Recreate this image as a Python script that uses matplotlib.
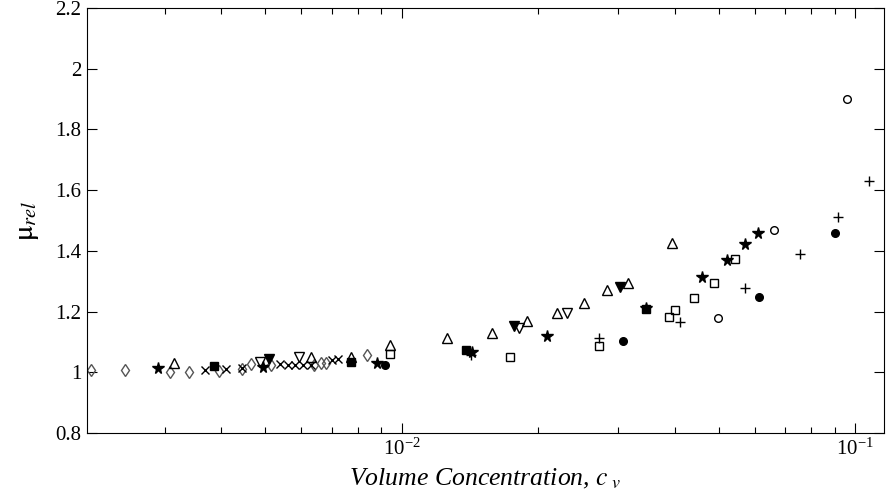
import numpy as np
import matplotlib
matplotlib.use("Agg")
import matplotlib.pyplot as plt
from matplotlib.ticker import FuncFormatter, LogLocator, NullFormatter

plt.rcParams['font.family'] = ['Liberation Serif', 'DejaVu Serif']
plt.rcParams['mathtext.fontset'] = 'stix'

# data, one group per marker type
diamond_x = [0.002065, 0.002455, 0.003075, 0.00339, 0.003945, 0.00445, 0.004658,
             0.00515, 0.0064, 0.00665, 0.0068, 0.00836]
diamond_y = [1.008, 1.008, 1.002, 1.002, 1.004, 1.012, 1.026, 1.024, 1.024, 1.03, 1.032, 1.057]

cross_x = [0.003673, 0.0041, 0.00445, 0.00538, 0.00561, 0.0058, 0.00606, 0.0063, 0.007, 0.00724]
cross_y = [1.008, 1.01, 1.013, 1.027, 1.024, 1.024, 1.024, 1.024, 1.04, 1.043]

star_x = [0.0029, 0.00494, 0.0088, 0.01425, 0.02087, 0.03457, 0.0459, 0.052, 0.057, 0.0609]
star_y = [1.013, 1.018, 1.032, 1.068, 1.12, 1.213, 1.313, 1.37, 1.422, 1.458]

tri_up_x = [0.00315, 0.0063, 0.00772, 0.00944, 0.01255, 0.01578, 0.0189, 0.022, 0.02518,
            0.02835, 0.03155, 0.0394]
tri_up_y = [1.032, 1.051, 1.05, 1.09, 1.114, 1.13, 1.17, 1.194, 1.229, 1.271, 1.294, 1.425]

fsquare_x = [0.003846, 0.00772, 0.01385, 0.0345]
fsquare_y = [1.021, 1.035, 1.074, 1.21]

ftri_dn_x = [0.00509, 0.0177, 0.03024]
ftri_dn_y = [1.043, 1.153, 1.282]

tri_dn_x = [0.004859, 0.00592, 0.01816, 0.02317]
tri_dn_y = [1.035, 1.049, 1.145, 1.196]

square_x = [0.00941, 0.01734, 0.02722, 0.0389, 0.040, 0.0441, 0.0487, 0.0543]
square_y = [1.06, 1.051, 1.088, 1.182, 1.205, 1.243, 1.295, 1.373]

fcircle_x = [0.00917, 0.03074, 0.0614, 0.0901]
fcircle_y = [1.024, 1.102, 1.248, 1.46]

plus_x = [0.0142, 0.02722, 0.0411, 0.0572, 0.0756, 0.0916, 0.1071]
plus_y = [1.057, 1.112, 1.167, 1.279, 1.391, 1.513, 1.631]

circle_x = [0.0498, 0.066, 0.0959]
circle_y = [1.178, 1.469, 1.90]

fig = plt.figure(figsize=(8.86, 5.04), dpi=100)
ax = fig.add_axes([0.098, 0.141, 0.9, 0.843])

ms = 5.5
ax.plot(diamond_x, diamond_y, 'd', mfc='none', mec='#555555', ms=ms + 1, mew=1.0, ls='none')
ax.plot(cross_x, cross_y, 'x', color='black', ms=ms, mew=1.0, ls='none')
ax.plot(tri_up_x, tri_up_y, '^', mfc='none', mec='black', ms=ms + 1, mew=1.0, ls='none')
ax.plot(tri_dn_x, tri_dn_y, 'v', mfc='none', mec='black', ms=ms + 1, mew=1.0, ls='none')
ax.plot(square_x, square_y, 's', mfc='none', mec='black', ms=ms, mew=1.0, ls='none')
ax.plot(circle_x, circle_y, 'o', mfc='none', mec='black', ms=ms, mew=1.0, ls='none')
ax.plot(plus_x, plus_y, '+', color='black', ms=ms + 1, mew=1.0, ls='none')
ax.plot(fsquare_x, fsquare_y, 's', color='black', ms=ms, ls='none')
ax.plot(ftri_dn_x, ftri_dn_y, 'v', color='black', ms=ms + 1, ls='none')
ax.plot(fcircle_x, fcircle_y, 'o', color='black', ms=ms, ls='none')
ax.plot(star_x, star_y, '*', color='black', ms=ms + 3, ls='none')

ax.set_xscale('log')
ax.set_xlim(0.00202, 0.1158)
ax.set_ylim(0.8, 2.2)
ax.set_yticks(np.arange(0.8, 2.21, 0.2))
ax.yaxis.set_major_formatter(FuncFormatter(lambda v, p: '%g' % round(v, 2)))
ax.xaxis.set_major_locator(LogLocator(base=10))
ax.xaxis.set_minor_locator(LogLocator(base=10, subs=np.arange(2, 10)))
ax.xaxis.set_minor_formatter(NullFormatter())

ax.tick_params(which='both', direction='in', top=True, right=True, labelsize=15)
ax.tick_params(which='major', length=7, width=0.8, pad=4)
ax.tick_params(which='minor', length=4, width=0.8)
for s in ax.spines.values():
    s.set_linewidth(0.8)

ax.set_xlabel(r'Volume Concentration, $c_{\ v}$', fontsize=18.5, style='italic', labelpad=5)
ax.set_ylabel(r'$\mathrm{\mu}_{rel}$', fontsize=21, labelpad=10)

fig.savefig('out.png')
